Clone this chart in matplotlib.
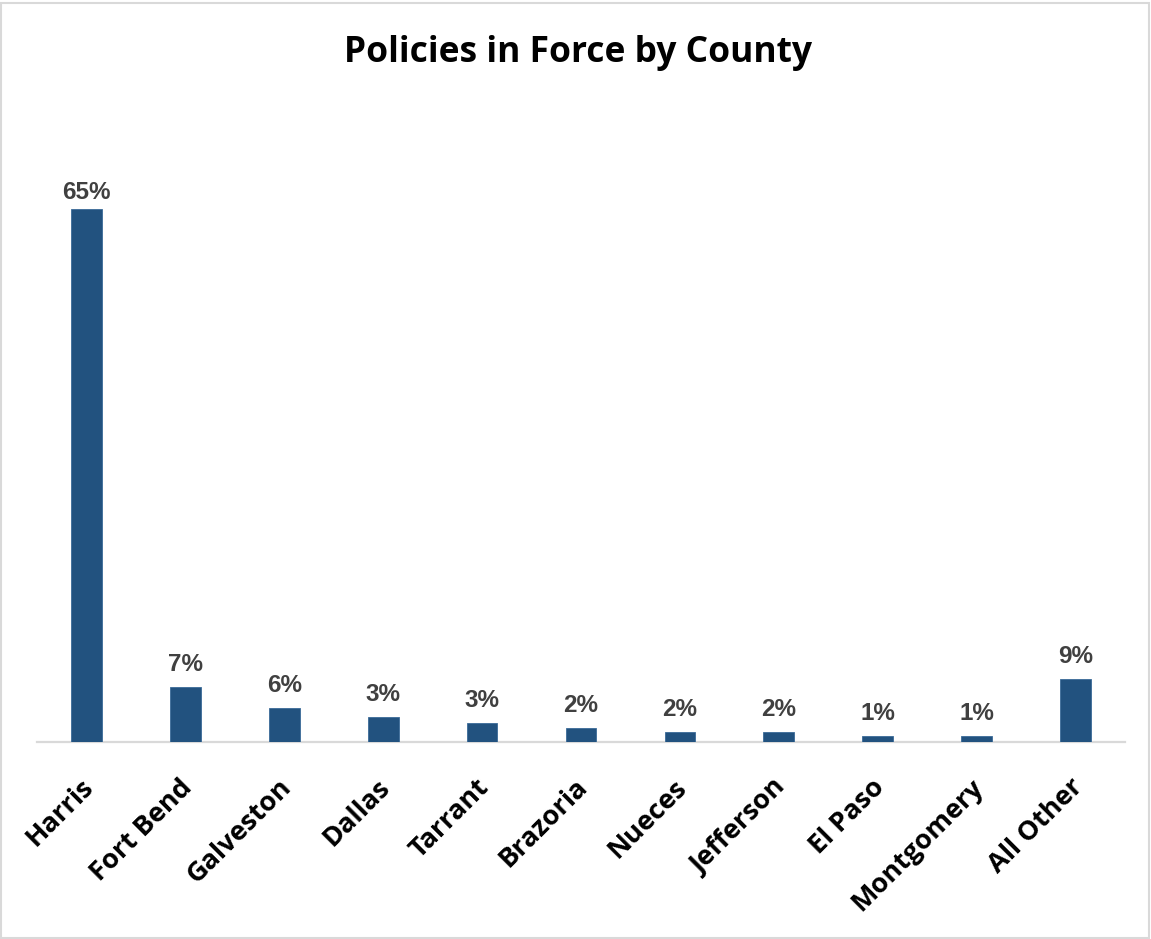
import matplotlib
matplotlib.use("Agg")
import matplotlib.pyplot as plt
from matplotlib.patches import Rectangle
from matplotlib.transforms import ScaledTranslation

counties = ["Harris", "Fort Bend", "Galveston", "Dallas", "Tarrant", "Brazoria",
            "Nueces", "Jefferson", "El Paso", "Montgomery", "All Other"]
bar_values = [65.0, 6.7, 4.2, 3.1, 2.3, 1.8, 1.25, 1.25, 0.77, 0.77, 7.7]
value_labels = ["65%", "7%", "6%", "3%", "3%", "2%", "2%", "2%", "1%", "1%", "9%"]

W, H, DPI = 1151, 939, 100
fig = plt.figure(figsize=(W / DPI, H / DPI), dpi=DPI)

# axes geometry in pixels
ax_left, ax_right = 37, 1125
ax_top, ax_bottom = 181, 742.3
ax = fig.add_axes([ax_left / W, 1 - ax_bottom / H, (ax_right - ax_left) / W, (ax_bottom - ax_top) / H])

px_per_unit = 533.3 / 65.0
ytop = (ax_bottom - ax_top) / px_per_unit

x = list(range(len(counties)))
ax.bar(x, bar_values, width=0.31, color="#22527F", edgecolor="#3a6a98", linewidth=0.6, zorder=3)
ax.set_xlim(-0.5, len(counties) - 0.5)
ax.set_ylim(0, ytop)

for s in ["top", "right", "left"]:
    ax.spines[s].set_visible(False)
ax.spines["bottom"].set_color("#d9d9d9")
ax.spines["bottom"].set_linewidth(1.6)
ax.set_yticks([])
ax.set_xticks(x)
ax.set_xticklabels(counties, rotation=45, ha="right", va="top", rotation_mode="anchor",
                   fontsize=19.5, fontweight="bold", family="Open Sans", color="black")
ax.tick_params(axis="x", length=0, pad=23)
shift = ScaledTranslation(-6 / DPI, 0, fig.dpi_scale_trans)
for lbl in ax.get_xticklabels():
    lbl.set_transform(lbl.get_transform() + shift)

gap_units = 16 / px_per_unit
label_h_units = 18 / px_per_unit
for xi, v, lab in zip(x, bar_values, value_labels):
    yl = min(v + gap_units, ytop - label_h_units)
    ax.text(xi, yl, lab, ha="center", va="baseline", fontsize=17.5, fontweight="bold",
            family="Liberation Sans", color="#404040")

fig.text(578 / W, 1 - 62 / H, "Policies in Force by County", ha="center", va="baseline",
         fontsize=25.5, fontweight="bold", family="Open Sans", color="black")

fig.patches.append(Rectangle((0.5 / W, 1.5 / H), (W - 3) / W, (H - 4) / H, transform=fig.transFigure,
                             fill=False, edgecolor="#d9d9d9", linewidth=1.5))

fig.savefig("out.png", dpi=DPI)
